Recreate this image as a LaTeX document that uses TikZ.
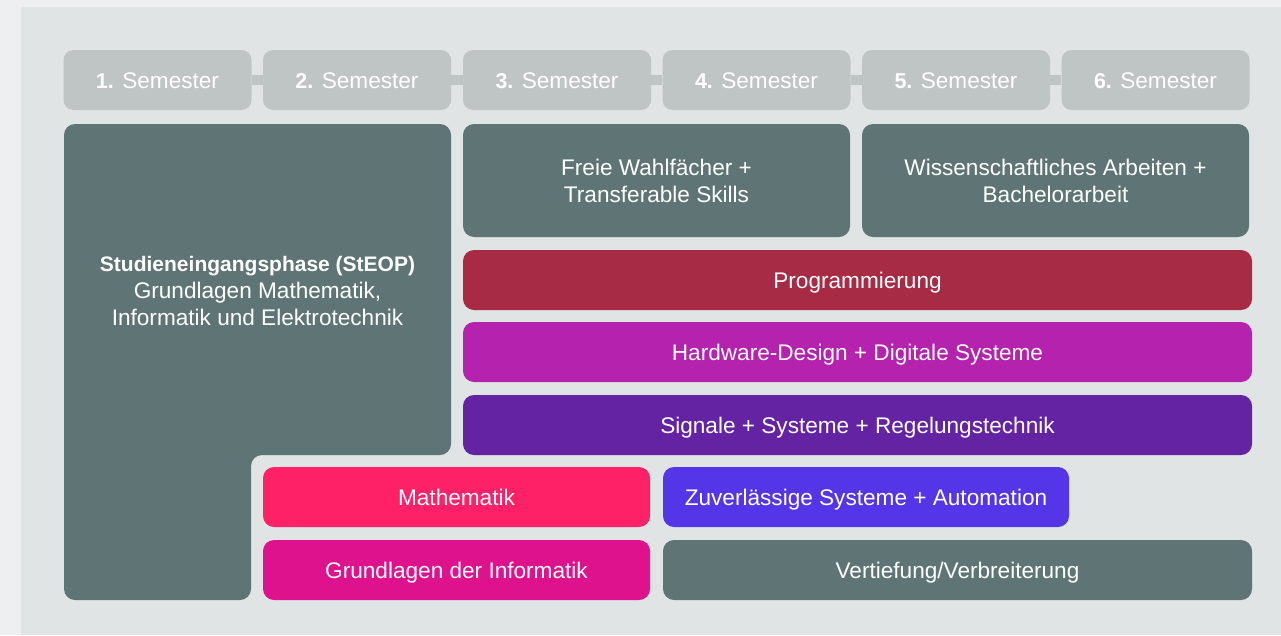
\documentclass[tikz,border=0pt]{standalone}
\usepackage{fontspec}
\setmainfont{Liberation Sans}
\definecolor{outerbg}{HTML}{EDEFF1}
\definecolor{panel}{HTML}{E0E4E5}
\definecolor{semc}{HTML}{BFC4C5}
\definecolor{slate}{HTML}{5F7575}
\definecolor{progc}{HTML}{A82B45}
\definecolor{hwc}{HTML}{B422AE}
\definecolor{sigc}{HTML}{6323A3}
\definecolor{mathc}{HTML}{FF2167}
\definecolor{zuvc}{HTML}{5535E8}
\definecolor{ginfc}{HTML}{DF128D}
\newcommand{\bnum}[1]{{\fontsize{21.5}{27}\selectfont\bfseries #1}}
\begin{document}
\begin{tikzpicture}[x=1pt,y=-1pt,
  txt/.style={text=white, font=\fontsize{22.6}{27}\selectfont, align=center, inner sep=0pt},
  sembox/.style={txt, fill=semc, rounded corners=10pt, minimum width=188pt, minimum height=60pt, text height=19pt, text depth=3pt},
  blk/.style={txt, rounded corners=11pt, minimum height=60pt},
  oneline/.style={blk, text height=20pt, text depth=3pt},
  neck/.style={semc, line width=10pt}]
\fill[outerbg] (0,0) rectangle (1281,635);
\fill[panel] (21,7) rectangle (1281,635);
\useasboundingbox (0,0) rectangle (1281,635);
% semesters
\node[sembox] (s1) at (157.5,80) {\bnum{1.} Semester};
\node[sembox] (s2) at (357,80) {\bnum{2.} Semester};
\node[sembox] (s3) at (557,80) {\bnum{3.} Semester};
\node[sembox] (s4) at (756.5,80) {\bnum{4.} Semester};
\node[sembox] (s5) at (956,80) {\bnum{5.} Semester};
\node[sembox] (s6) at (1155.5,80) {\bnum{6.} Semester};
\draw[neck] (s1.east) -- (s2.west);
\draw[neck] (s2.east) -- (s3.west);
\draw[neck] (s3.east) -- (s4.west);
\draw[neck] (s4.east) -- (s5.west);
\draw[neck] (s5.east) -- (s6.west);
% StEOP L-shape
\fill[slate, rounded corners=11pt] (64,300) -- (64,124) -- (451,124) -- (451,455) -- (251,455) -- (251,600) -- (64,600) -- cycle;
\node[txt] (steop) at (257.5,290.5) {{\fontsize{21}{27}\selectfont\bfseries Studieneingangsphase (StEOP)}\\Grundlagen Mathematik,\\Informatik und Elektrotechnik};
% upper blocks
\node[blk, fill=slate, minimum width=387pt, minimum height=113pt] (frei) at (656.5,180.5) {Freie Wahlfächer +\\Transferable Skills};
\node[blk, fill=slate, minimum width=387pt, minimum height=113pt] (wiss) at (1055.5,180.5) {Wissenschaftliches Arbeiten +\\Bachelorarbeit};
% stripes
\node[oneline, fill=progc, minimum width=789pt] (prog) at (857.5,280) {Programmierung};
\node[oneline, fill=hwc, minimum width=789pt] (hw) at (857.5,352) {Hardware-Design + Digitale Systeme};
\node[oneline, fill=sigc, minimum width=789pt] (sig) at (857.5,425) {Signale + Systeme + Regelungstechnik};
% bottom rows
\node[oneline, fill=mathc, minimum width=387pt] (math) at (456.5,497) {Mathematik};
\node[oneline, fill=zuvc, minimum width=406pt] (zuv) at (866,497) {Zuverlässige Systeme + Automation};
\node[oneline, fill=ginfc, minimum width=387pt] (ginf) at (456.5,570) {Grundlagen der Informatik};
\node[oneline, fill=slate, minimum width=589pt] (vert) at (957.5,570) {Vertiefung/Verbreiterung};
\end{tikzpicture}
\end{document}
